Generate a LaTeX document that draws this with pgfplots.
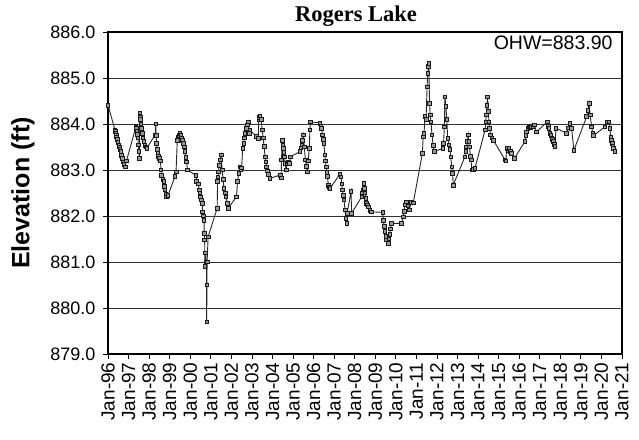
\documentclass[border=0pt]{standalone}
\usepackage{pgfplots}
\pgfplotsset{compat=1.18}
\usepackage{fontspec}
\setmainfont{Liberation Sans}
\newfontfamily\timesfont{Liberation Serif}
\begin{document}
\begin{tikzpicture}
\path[use as bounding box] (-108bp,-86bp) rectangle (531bp,354bp);
\begin{axis}[
  at={(0,0)}, anchor=south west,
  scale only axis, width=514bp, height=322bp,
  xmin=1996, xmax=2021, ymin=879, ymax=886,
  xtick={1996,...,2021},
  xticklabels={Jan-96,Jan-97,Jan-98,Jan-99,Jan-00,Jan-01,Jan-02,Jan-03,Jan-04,Jan-05,Jan-06,Jan-07,Jan-08,Jan-09,Jan-10,Jan-11,Jan-12,Jan-13,Jan-14,Jan-15,Jan-16,Jan-17,Jan-18,Jan-19,Jan-20,Jan-21},
  ytick={879,880,...,886},
  yticklabel style={/pgf/number format/fixed,/pgf/number format/precision=1,/pgf/number format/fixed zerofill,/pgf/number format/assume math mode=true, font=\fontsize{18bp}{18bp}\selectfont, xshift=-4bp},
  xticklabel style={rotate=90, anchor=east, font=\fontsize{19bp}{19bp}\selectfont},
  ymajorgrids, grid style={black!80, line width=0.8bp},
  axis line style={line width=1.2bp},
  tick align=outside, major tick length=5bp,
  tick style={black, line width=0.8bp},
  xtick pos=bottom, ytick pos=left,
  clip=false,
]
\addplot[black!85, line width=0.9bp, mark=square*, mark size=1.8bp, mark options={draw=black!90, fill=black!40, line width=0.7bp}] coordinates {
(1996.00,884.41)(1996.34,883.87)(1996.36,883.84)(1996.38,883.80)(1996.40,883.76)(1996.42,883.72)(1996.45,883.66)(1996.48,883.60)(1996.52,883.55)(1996.55,883.50)(1996.58,883.45)(1996.62,883.40)(1996.66,883.32)(1996.70,883.25)(1996.74,883.18)(1996.78,883.12)(1996.83,883.07)(1996.90,883.20)
(1997.36,883.94)(1997.38,883.90)(1997.40,883.85)(1997.43,883.78)(1997.45,883.70)(1997.48,883.55)(1997.50,883.40)(1997.53,883.25)(1997.55,884.24)(1997.56,884.15)(1997.58,884.10)(1997.60,884.00)(1997.62,883.90)(1997.66,883.80)(1997.70,883.70)(1997.75,883.62)(1997.80,883.54)(1997.84,883.50)(1997.88,883.47)
(1998.29,883.76)(1998.32,884.00)(1998.34,883.75)(1998.36,883.58)(1998.39,883.45)(1998.42,883.36)(1998.46,883.30)(1998.50,883.25)(1998.55,883.20)(1998.58,883.00)(1998.60,882.89)(1998.66,882.80)(1998.72,882.75)(1998.75,882.65)(1998.77,882.57)(1998.81,882.48)(1998.85,882.42)(1998.92,882.45)
(1999.26,882.86)(1999.31,882.96)(1999.37,883.65)(1999.41,883.72)(1999.45,883.75)(1999.50,883.80)(1999.54,883.75)(1999.58,883.70)(1999.62,883.64)(1999.66,883.58)(1999.70,883.50)(1999.74,883.40)(1999.78,883.28)(1999.82,883.18)(1999.87,883.00)
(2000.28,882.88)(2000.31,882.75)(2000.38,882.70)(2000.44,882.57)(2000.47,882.50)(2000.50,882.42)(2000.54,882.35)(2000.58,882.28)(2000.60,882.09)(2000.64,882.00)(2000.67,881.91)(2000.68,881.62)(2000.70,881.48)(2000.72,880.90)(2000.74,881.20)(2000.77,881.00)(2000.79,881.00)(2000.80,880.50)(2000.80,879.70)(2000.82,881.00)(2000.87,881.55)
(2001.31,882.17)(2001.33,882.75)(2001.35,882.85)(2001.37,882.96)(2001.41,883.10)(2001.45,883.22)(2001.50,883.33)(2001.55,883.00)(2001.60,882.80)(2001.64,882.60)(2001.70,882.50)(2001.74,882.42)(2001.80,882.28)(2001.85,882.17)
(2002.25,882.42)(2002.30,882.75)(2002.36,882.93)(2002.42,883.07)(2002.47,883.00)(2002.50,883.05)(2002.55,883.47)(2002.60,883.58)(2002.63,883.70)(2002.66,883.80)(2002.72,883.90)(2002.77,883.98)(2002.82,884.05)(2002.87,883.80)(2002.90,883.87)
(2003.23,883.73)(2003.31,883.69)(2003.33,884.09)(2003.36,884.15)(2003.39,884.18)(2003.45,884.10)(2003.50,883.87)(2003.55,883.70)(2003.59,883.51)(2003.64,883.29)(2003.68,883.18)(2003.71,883.07)(2003.75,882.98)(2003.79,882.90)(2003.88,882.82)
(2004.37,882.89)(2004.42,882.83)(2004.44,883.22)(2004.47,883.65)(2004.50,883.55)(2004.52,883.47)(2004.55,883.38)(2004.58,883.29)(2004.62,883.15)(2004.66,883.00)(2004.72,883.15)(2004.77,883.18)(2004.82,883.15)(2004.88,883.29)
(2005.34,883.40)(2005.38,883.48)(2005.42,883.55)(2005.46,883.65)(2005.50,883.76)(2005.55,883.50)(2005.60,883.22)(2005.64,883.08)(2005.69,882.96)(2005.74,883.20)(2005.79,883.47)(2005.82,883.87)(2005.85,884.05)
(2006.31,884.02)(2006.35,883.95)(2006.38,883.90)(2006.44,883.76)(2006.47,883.66)(2006.50,883.58)(2006.55,883.33)(2006.58,883.20)(2006.61,883.07)(2006.64,882.95)(2006.67,882.86)(2006.72,882.67)(2006.76,882.62)(2006.80,882.60)
(2007.28,882.91)(2007.33,882.85)(2007.37,882.70)(2007.40,882.57)(2007.44,882.45)(2007.48,882.35)(2007.53,882.13)(2007.57,881.95)(2007.61,881.84)(2007.63,882.06)(2007.82,882.53)(2007.85,882.06)
(2008.34,882.42)(2008.37,882.50)(2008.40,882.57)(2008.45,882.71)(2008.48,882.60)(2008.50,882.50)(2008.54,882.38)(2008.58,882.28)(2008.62,882.24)(2008.66,882.20)(2008.74,882.12)(2008.82,882.09)
(2009.36,882.08)(2009.39,881.91)(2009.43,881.78)(2009.47,881.66)(2009.51,881.56)(2009.55,881.48)(2009.63,881.41)(2009.66,881.50)(2009.70,881.60)(2009.74,881.72)(2009.79,881.84)
(2010.28,881.84)(2010.36,881.98)(2010.40,882.10)(2010.44,882.24)(2010.52,882.31)(2010.58,882.22)(2010.65,882.13)(2010.75,882.30)(2010.85,882.29)
(2011.29,883.36)(2011.33,883.72)(2011.37,883.80)(2011.42,884.16)(2011.47,884.10)(2011.52,884.81)(2011.55,885.10)(2011.58,885.25)(2011.60,885.32)(2011.64,884.45)(2011.67,884.20)(2011.71,884.05)(2011.76,883.76)(2011.81,883.54)(2011.86,883.40)
(2012.28,883.47)(2012.32,883.58)(2012.36,883.94)(2012.39,884.59)(2012.43,884.38)(2012.48,884.10)(2012.52,883.69)(2012.58,883.55)(2012.63,883.45)(2012.67,883.29)(2012.72,883.07)(2012.76,882.93)(2012.79,882.67)
(2013.36,883.29)(2013.40,883.40)(2013.44,883.50)(2013.48,883.62)(2013.52,883.76)(2013.55,883.62)(2013.58,883.50)(2013.63,883.30)(2013.66,883.22)(2013.69,883.00)(2013.77,883.02)(2013.85,883.04)
(2014.34,883.87)(2014.37,884.05)(2014.40,884.20)(2014.43,884.40)(2014.46,884.59)(2014.50,884.27)(2014.53,884.05)(2014.56,883.90)(2014.61,883.76)(2014.67,883.70)(2014.74,883.65)
(2015.31,883.22)(2015.35,883.20)(2015.39,883.47)(2015.45,883.42)(2015.50,883.47)(2015.56,883.40)(2015.63,883.36)(2015.76,883.25)
(2016.28,883.62)(2016.32,883.75)(2016.35,883.83)(2016.42,883.90)(2016.49,883.94)(2016.55,883.92)(2016.60,883.94)(2016.66,883.95)(2016.73,883.98)(2016.84,883.83)
(2017.38,884.05)(2017.41,883.95)(2017.44,883.90)(2017.50,883.80)(2017.54,883.75)(2017.58,883.70)(2017.62,883.66)(2017.66,883.62)(2017.70,883.56)(2017.74,883.52)(2017.79,883.91)
(2018.30,883.80)(2018.40,883.92)(2018.47,884.02)(2018.55,883.90)(2018.66,883.43)
(2019.28,884.16)(2019.34,884.30)(2019.40,884.45)(2019.45,884.20)(2019.52,883.94)(2019.58,883.80)(2019.62,883.75)
(2020.17,883.94)(2020.28,884.05)(2020.37,884.05)(2020.41,883.90)(2020.46,883.72)(2020.49,883.65)(2020.52,883.58)(2020.55,883.52)(2020.58,883.47)(2020.66,883.40)
};
\end{axis}
\node[anchor=base, font=\timesfont\bfseries\fontsize{22.5bp}{22.5bp}\selectfont] at (248bp,332bp) {Rogers Lake};
\node[anchor=base east, inner sep=0pt, font=\fontsize{19.5bp}{19.5bp}\selectfont] at (504.7bp,304.7bp) {OHW=883.90};
\node[rotate=90, font=\bfseries\fontsize{25bp}{25bp}\selectfont] at (-85bp,161bp) {Elevation (ft)};
\end{tikzpicture}
\end{document}
